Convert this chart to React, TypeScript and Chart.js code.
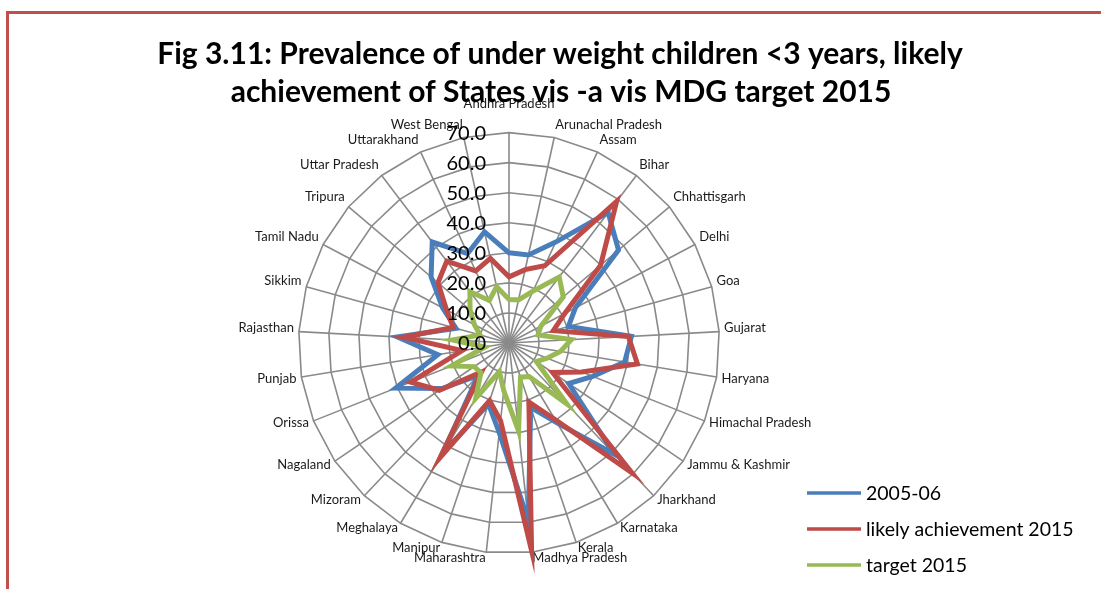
import React, { useEffect, useRef } from 'react';
import { Chart, registerables } from 'chart.js';

Chart.register(...registerables);

const states = [
  'Andhra Pradesh', 'Arunachal Pradesh', 'Assam', 'Bihar', 'Chhattisgarh', 'Delhi', 'Goa',
  'Gujarat', 'Haryana', 'Himachal Pradesh', 'Jammu & Kashmir', 'Jharkhand', 'Karnataka',
  'Kerala', 'Madhya Pradesh', 'Maharashtra', 'Manipur', 'Meghalaya', 'Mizoram', 'Nagaland',
  'Orissa', 'Punjab', 'Rajasthan', 'Sikkim', 'Tamil Nadu', 'Tripura', 'Uttar Pradesh',
  'Uttarakhand', 'West Bengal',
];

const values2005 = [
  30.0, 30.0, 37.0, 54.5, 47.8, 25.0, 20.5, 40.8, 39.0, 30.0, 24.0, 51.0, 31.0, 22.6, 59.5,
  30.0, 21.4, 43.0, 15.0, 27.0, 40.6, 24.0, 37.2, 18.3, 25.0, 34.0, 42.2, 32.8, 37.9,
];

const likely2015 = [
  22.0, 25.0, 28.3, 59.2, 40.0, 21.0, 15.3, 39.8, 43.3, 26.0, 17.5, 59.5, 29.7, 20.7, 69.5,
  26.0, 20.2, 44.5, 13.3, 28.0, 35.2, 15.8, 35.2, 19.3, 23.5, 31.0, 34.2, 26.4, 28.8,
];

const target2015 = [
  14.5, 14.7, 19.0, 27.6, 23.7, 12.0, 10.0, 20.8, 17.3, 13.6, 11.0, 28.0, 13.0, 12.0, 29.5,
  16.0, 10.0, 21.5, 13.6, 14.0, 20.7, 8.1, 18.8, 10.0, 13.0, 17.0, 21.5, 15.6, 19.2,
];

const tickValues = [0, 10, 20, 30, 40, 50, 60, 70];
const seriesNames = ['2005-06', 'likely achievement 2015', 'target 2015'];
const seriesColors = ['#4A7EBB', '#BE4B48', '#98B954'];
const titleLines = [
  'Fig 3.11: Prevalence of under weight children <3 years, likely',
  'achievement of States vis -a vis MDG target 2015',
];

const FONT = 'Lato';

const overlayPlugin = {
  id: 'overlay',
  afterDatasetsDraw(chart: any) {
    const ctx = chart.ctx;
    const scale = chart.scales.r;
    ctx.save();
    ctx.font = `20px ${FONT}`;
    ctx.fillStyle = '#000';
    ctx.textAlign = 'right';
    ctx.textBaseline = 'middle';
    tickValues.forEach((v) => {
      const d = scale.getDistanceFromCenterForValue(v);
      ctx.fillText(v.toFixed(1), scale.xCenter - 23, scale.yCenter - d + 1);
    });
    ctx.restore();
  },
  afterDraw(chart: any) {
    const ctx = chart.ctx;
    ctx.save();
    ctx.font = `bold 30px ${FONT}`;
    ctx.fillStyle = '#000';
    ctx.textAlign = 'center';
    ctx.textBaseline = 'middle';
    ctx.fillText(titleLines[0], 560, 54);
    ctx.fillText(titleLines[1], 561, 92);
    ctx.font = `19.5px ${FONT}`;
    ctx.textAlign = 'left';
    chart.data.datasets.forEach((ds: any, i: number) => {
      const y = 493 + i * 36;
      ctx.strokeStyle = ds.borderColor;
      ctx.lineWidth = 3.5;
      ctx.beginPath();
      ctx.moveTo(807, y);
      ctx.lineTo(861, y);
      ctx.stroke();
      ctx.fillStyle = '#000';
      ctx.fillText(ds.label, 866, y + 1);
    });
    ctx.restore();
  },
};

export default function App() {
  const ref = useRef<HTMLCanvasElement>(null);

  useEffect(() => {
    if (!ref.current) return;
    const n = states.length;
    const chart = new Chart(ref.current, {
      type: 'radar',
      data: {
        labels: states,
        datasets: [values2005, likely2015, target2015].map((d, i) => ({
          label: seriesNames[i],
          data: d,
          borderColor: seriesColors[i],
          backgroundColor: 'transparent',
          borderWidth: 5,
          pointRadius: 0,
          pointHoverRadius: 0,
          fill: false,
          order: 3 - i,
        })),
      },
      options: {
        animation: false,
        responsive: true,
        maintainAspectRatio: false,
        layout: { padding: { left: 150, right: 233, top: 80, bottom: 15 } },
        plugins: {
          legend: { display: false },
          title: { display: false },
          tooltip: { enabled: false },
        },
        elements: { line: { tension: 0, borderJoinStyle: 'miter' } },
        scales: {
          r: {
            min: 0,
            max: 70,
            ticks: { stepSize: 10, display: false },
            grid: { circular: false, color: '#8A8A8A', lineWidth: 1.6 },
            angleLines: { display: true, color: '#8A8A8A', lineWidth: 1.6 },
            pointLabels: {
              display: true,
              color: '#1a1a1a',
              padding: (c: any) => (c.index === 0 ? 21 : 5),
              font: (c: any) => {
                const a = (c.index * 360) / n;
                const lower = a > 90 && a < 270;
                const cos = Math.abs(Math.cos((a * Math.PI) / 180));
                const lh = lower ? 1 : 2 * (3.5 + 4.3 * cos);
                return { family: FONT, size: 13, lineHeight: lh / 13 };
              },
            },
          },
        },
      },
      plugins: [overlayPlugin],
    });
    return () => chart.destroy();
  }, []);

  return (
    <div style={{ position: 'fixed', left: 0, top: 0, width: 1101, height: 589, background: '#fff' }}>
      <div
        style={{
          position: 'absolute', left: 6, top: 11, width: 1101, height: 589,
          borderTop: '3px solid #C0504D', borderLeft: '3px solid #C0504D',
        }}
      />
      <canvas ref={ref} style={{ position: 'absolute', left: 0, top: 0 }} />
    </div>
  );
}
